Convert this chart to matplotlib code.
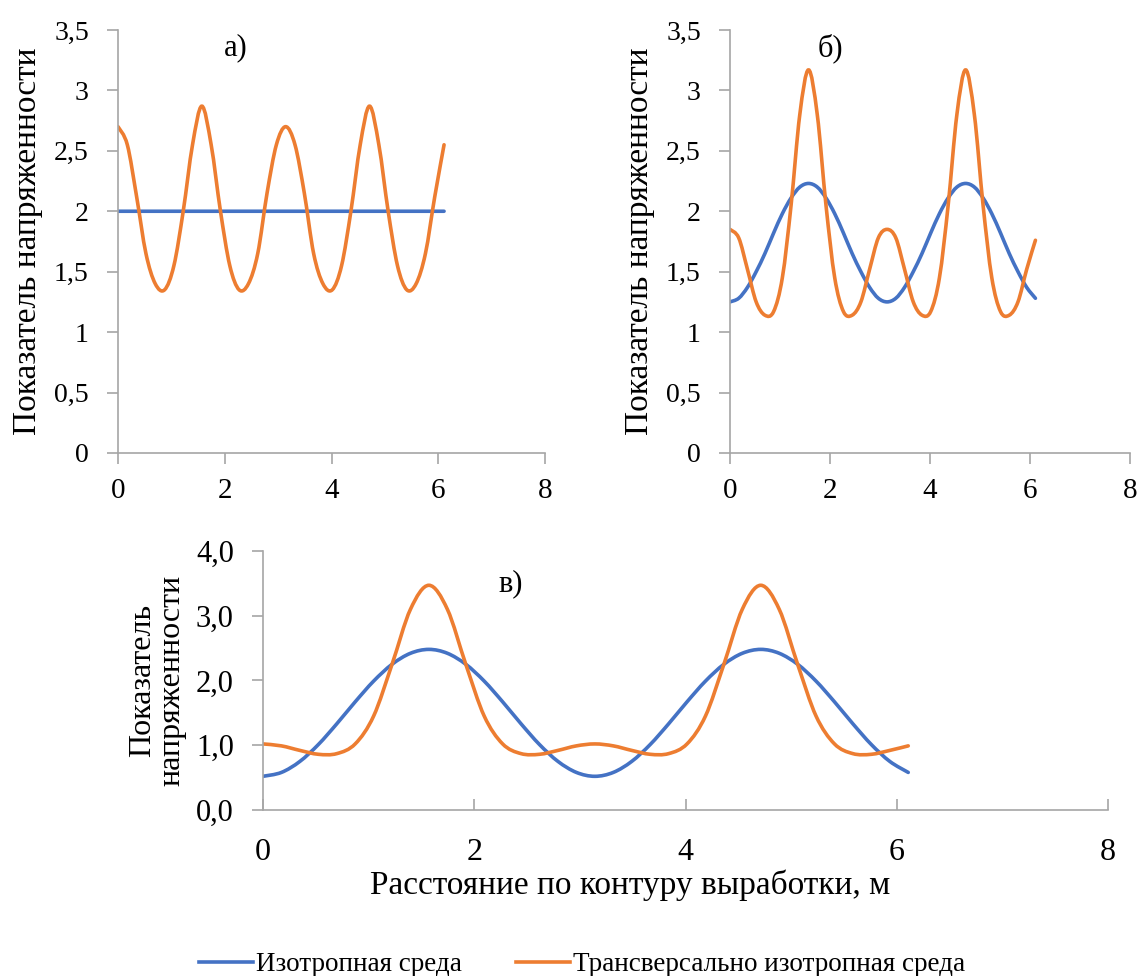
import numpy as np
import matplotlib
matplotlib.use('Agg')
import matplotlib.pyplot as plt
from matplotlib.path import Path
from matplotlib.patches import PathPatch
from matplotlib.lines import Line2D

plt.rcParams['font.family'] = ['Liberation Serif', 'DejaVu Serif']

# angle along the contour, 0..350 degrees, in radians
angle_deg = np.arange(0, 360, 10)
x = np.deg2rad(angle_deg)

iso_a = [2.0] * 36
trans_a = [2.70, 2.55, 2.12, 1.65, 1.40, 1.35, 1.55, 2.00, 2.55, 2.87, 2.55, 2.00,
           1.55, 1.35, 1.40, 1.65, 2.15, 2.55, 2.70, 2.55, 2.15, 1.65, 1.40, 1.35,
           1.55, 2.00, 2.55, 2.87, 2.55, 2.00, 1.55, 1.35, 1.40, 1.65, 2.12, 2.55]

iso_b = [1.25, 1.28, 1.37, 1.50, 1.65, 1.82, 1.98, 2.11, 2.20, 2.23, 2.20, 2.11,
         1.98, 1.82, 1.65, 1.50, 1.37, 1.28, 1.25, 1.28, 1.37, 1.50, 1.65, 1.82,
         1.98, 2.11, 2.20, 2.23, 2.20, 2.11, 1.98, 1.82, 1.65, 1.50, 1.37, 1.28]
trans_b = [1.85, 1.78, 1.52, 1.25, 1.14, 1.17, 1.45, 2.05, 2.80, 3.17, 2.80, 2.05,
           1.45, 1.17, 1.14, 1.25, 1.52, 1.78, 1.85, 1.78, 1.52, 1.25, 1.14, 1.17,
           1.45, 2.05, 2.80, 3.17, 2.80, 2.05, 1.45, 1.17, 1.14, 1.25, 1.52, 1.76]

iso_c = [0.52, 0.58, 0.75, 1.01, 1.33, 1.67, 1.99, 2.25, 2.42, 2.48, 2.42, 2.25,
         1.99, 1.67, 1.33, 1.01, 0.75, 0.58, 0.52, 0.58, 0.75, 1.01, 1.33, 1.67,
         1.99, 2.25, 2.42, 2.48, 2.42, 2.25, 1.99, 1.67, 1.33, 1.01, 0.75, 0.58]
trans_c = [1.02, 0.99, 0.92, 0.86, 0.87, 1.02, 1.45, 2.25, 3.10, 3.47, 3.10, 2.25,
           1.45, 1.02, 0.87, 0.86, 0.92, 0.99, 1.02, 0.99, 0.92, 0.86, 0.87, 1.02,
           1.45, 2.25, 3.10, 3.47, 3.10, 2.25, 1.45, 1.02, 0.87, 0.86, 0.92, 0.99]

series_names = ['Изотропная среда', 'Трансверсально изотропная среда']
BLUE = '#4472C4'
ORANGE = '#ED7D31'
GREY = '#A6A6A6'


def smooth_line(ax, xs, ys, color):
    # Excel-style smoothed line: cubic Bezier segments through the data points
    p = np.column_stack([xs, ys])
    p = np.vstack([p[:1], p, p[-1:]])
    verts = [tuple(p[1])]
    codes = [Path.MOVETO]
    for i in range(1, len(p) - 2):
        c1 = p[i] + (p[i + 1] - p[i - 1]) / 6
        c2 = p[i + 1] - (p[i + 2] - p[i]) / 6
        verts += [tuple(c1), tuple(c2), tuple(p[i + 1])]
        codes += [Path.CURVE4] * 3
    ax.add_patch(PathPatch(Path(verts, codes), fill=False, edgecolor=color,
                           lw=2.6, capstyle='round', joinstyle='round'))


def style_axes(ax, yticks, ylabels, xdir, xpad, yfs, xfs):
    for s in ['top', 'right']:
        ax.spines[s].set_visible(False)
    for s in ['left', 'bottom']:
        ax.spines[s].set_color(GREY)
        ax.spines[s].set_linewidth(1.2)
    ax.set_xlim(0, 8)
    ax.set_xticks([0, 2, 4, 6, 8])
    ax.set_yticks(yticks)
    ax.set_yticklabels(ylabels)
    ax.tick_params(axis='y', direction='out', length=8, width=1.2, color=GREY,
                   labelsize=yfs, pad=13)
    ax.tick_params(axis='x', direction=xdir, length=8, width=1.2, color=GREY,
                   labelsize=xfs, pad=xpad)


fig = plt.figure(figsize=(11.39, 9.76), dpi=100)

top_ticks = [0, 0.5, 1, 1.5, 2, 2.5, 3, 3.5]
top_labels = ['0', '0,5', '1', '1,5', '2', '2,5', '3', '3,5']

ax1 = fig.add_axes([0.1036, 0.5359, 0.3749, 0.4334])
smooth_line(ax1, x, iso_a, BLUE)
smooth_line(ax1, x, trans_a, ORANGE)
ax1.set_ylim(0, 3.5)
style_axes(ax1, top_ticks, top_labels, 'out', 10, 20, 21)
ax1.set_ylabel('Показатель напряженности', fontsize=24, va='center')
ax1.yaxis.set_label_coords(-0.211, 0.5)
ax1.text(2.2, 3.35, 'а)', fontsize=22, ha='center', va='center')

ax2 = fig.add_axes([0.6409, 0.5359, 0.3512, 0.4334])
smooth_line(ax2, x, iso_b, BLUE)
smooth_line(ax2, x, trans_b, ORANGE)
ax2.set_ylim(0, 3.5)
style_axes(ax2, top_ticks, top_labels, 'out', 10, 20, 21)
ax2.set_ylabel('Показатель напряженности', fontsize=24, va='center')
ax2.yaxis.set_label_coords(-0.225, 0.5)
ax2.text(2.0, 3.35, 'б)', fontsize=22, ha='center', va='center')

ax3 = fig.add_axes([0.2309, 0.1701, 0.7419, 0.2654])
smooth_line(ax3, x, iso_c, BLUE)
smooth_line(ax3, x, trans_c, ORANGE)
ax3.set_ylim(0, 4)
style_axes(ax3, [0, 1, 2, 3, 4], ['0,0', '1,0', '2,0', '3,0', '4,0'], 'in', 20,
           22, 23)
ax3.set_ylabel('Показатель\nнапряженности', fontsize=23, va='center',
               linespacing=1.05)
ax3.yaxis.set_label_coords(-0.125, 0.5)
ax3.text(2.35, 3.5, 'в)', fontsize=22, ha='center', va='center')

fig.text(0.553, 0.0932, 'Расстояние по контуру выработки, м', fontsize=24,
         ha='center', va='center')

handles = [Line2D([], [], color=BLUE, lw=2.6), Line2D([], [], color=ORANGE, lw=2.6)]
fig.legend(handles, series_names, loc='center', bbox_to_anchor=(0.511, 0.0113),
           ncol=2, frameon=False, fontsize=19.5, handlelength=2.0,
           handletextpad=0.1, columnspacing=2.0, borderpad=0)

fig.savefig('out.png', dpi=100)
